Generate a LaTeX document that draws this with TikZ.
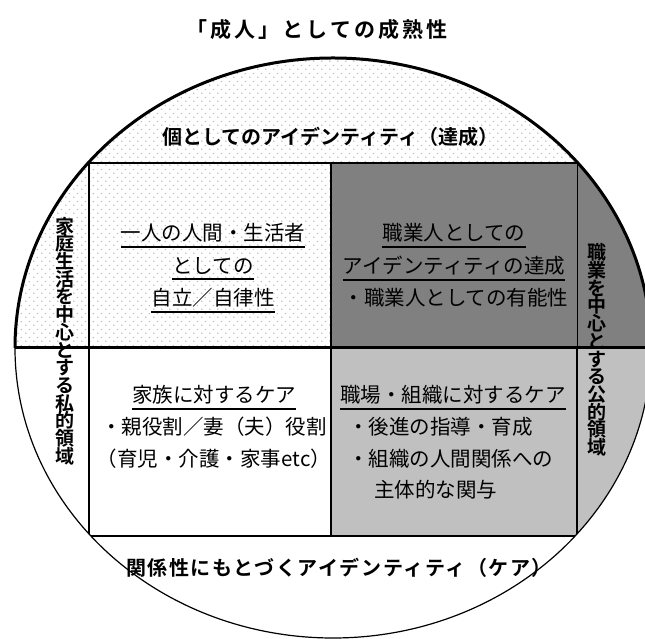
\documentclass[tikz,border=0pt]{standalone}
\usepackage{fontspec}
\setmainfont{Noto Sans CJK JP}[BoldFont={* Bold}]
\usetikzlibrary{patterns}
\pgfdeclarepatternformonly{halftone}{\pgfpointorigin}{\pgfpoint{8pt}{8pt}}{\pgfpoint{8pt}{8pt}}{%
  \pgfpathcircle{\pgfpoint{2pt}{2pt}}{0.85pt}%
  \pgfpathcircle{\pgfpoint{6pt}{6pt}}{0.85pt}%
  \pgfusepath{fill}}
\definecolor{darkfill}{RGB}{128,128,128}
\definecolor{lightfill}{RGB}{192,192,192}
\newcommand\tightlines{\lineskiplimit=-30pt\relax\lineskip=0pt\relax}
\tikzset{
  boxtext/.style={inner sep=0pt, font=\fontsize{20.5}{24}\selectfont},
  headtext/.style={inner sep=0pt, font=\fontsize{20}{24}\selectfont\bfseries},
  titletext/.style={inner sep=0pt, font=\fontsize{21}{24}\selectfont\bfseries\addfontfeatures{LetterSpace=15}},
  vtext/.style={inner sep=0pt, align=center, font=\fontsize{19}{17.7}\selectfont\bfseries\tightlines},
  uline/.style={line width=2pt},
  thickline/.style={line width=3pt},
  boxline/.style={line width=1.6pt},
  faintline/.style={line width=0.6pt},
  rimthin/.style={line width=1.2pt},
}
\begin{document}
\begin{tikzpicture}[x=1pt,y=1pt]
\useasboundingbox (0,0) rectangle (645,639);
\coordinate (C) at (333,291);
\coordinate (W) at (15,291);
\begin{scope}
  \clip (C) ellipse [x radius=318, y radius=290];
  \fill[white] (0,0) rectangle (660,639);
  \fill[pattern=halftone, pattern color=gray!55] (0,291) rectangle (660,639);
  \fill[darkfill] (331,291) rectangle (660,476);
  \fill[lightfill] (331,103) rectangle (660,291);
  \draw[boxline] (0,476) -- (660,476);
  \draw[boxline] (89,476) -- (89,103);
  \draw[boxline] (331,476) -- (331,103);
  \draw[faintline] (577,476) -- (577,291);
  \draw[boxline] (577,291) -- (577,103);
  \draw[boxline] (80,103) -- (590,103);
  \draw[thickline] (0,291) -- (660,291);
\end{scope}
\draw[thickline] (W) arc[start angle=180, end angle=0, x radius=318, y radius=290];
\draw[rimthin] (W) arc[start angle=180, end angle=360, x radius=318, y radius=290];

\node[titletext] (title) at (317,609) {「成人」としての成熟性};
\node[headtext] (top) at (330,502) {個としてのアイデンティティ（達成）};
\node[headtext, font=\fontsize{20}{24}\selectfont\bfseries\addfontfeatures{LetterSpace=8}] (bottom) at (339,71) {関係性にもとづくアイデンティティ（ケア）};

\node[vtext] (left) at (65,298) {家\\庭\\生\\活\\を\\中\\心\\と\\す\\る\\私\\的\\領\\域};
\node[vtext] (right) at (597,289) {職\\業\\を\\中\\心\\と\\す\\る\\公\\的\\領\\域};

\node[boxtext] (tl1) at (213,406) {一人の人間・生活者};
\node[boxtext] (tl2) at (213,373) {としての};
\node[boxtext] (tl3) at (213,341) {自立／自律性};
\foreach \n in {tl1,tl2,tl3}
  \draw[uline] ([yshift=-4pt]\n.south west) -- ([yshift=-4pt]\n.south east);

\node[boxtext] (tr1) at (454,406) {職業人としての};
\node[boxtext] (tr2) at (454,373) {アイデンティティの達成};
\node[boxtext] (tr3) at (456,341) {・職業人としての有能性};
\foreach \n in {tr1,tr2}
  \draw[uline] ([yshift=-4pt]\n.south west) -- ([yshift=-4pt]\n.south east);

\node[boxtext] (bl1) at (214,244) {家族に対するケア};
\node[boxtext] (bl2) at (214,212) {・親役割／妻（夫）役割};
\node[boxtext] (bl3) at (214,180) {（育児・介護・家事etc）};
\draw[uline] ([yshift=-4pt]bl1.south west) -- ([yshift=-4pt]bl1.south east);

\node[boxtext] (br1) at (453,244) {職場・組織に対するケア};
\node[boxtext, anchor=west] (br2) at (348,212) {・後進の指導・育成};
\node[boxtext, anchor=west] (br3) at (348,180) {・組織の人間関係への};
\node[boxtext, anchor=west] (br4) at (374,149) {主体的な関与};
\draw[uline] ([yshift=-4pt]br1.south west) -- ([yshift=-4pt]br1.south east);
\end{tikzpicture}
\end{document}
